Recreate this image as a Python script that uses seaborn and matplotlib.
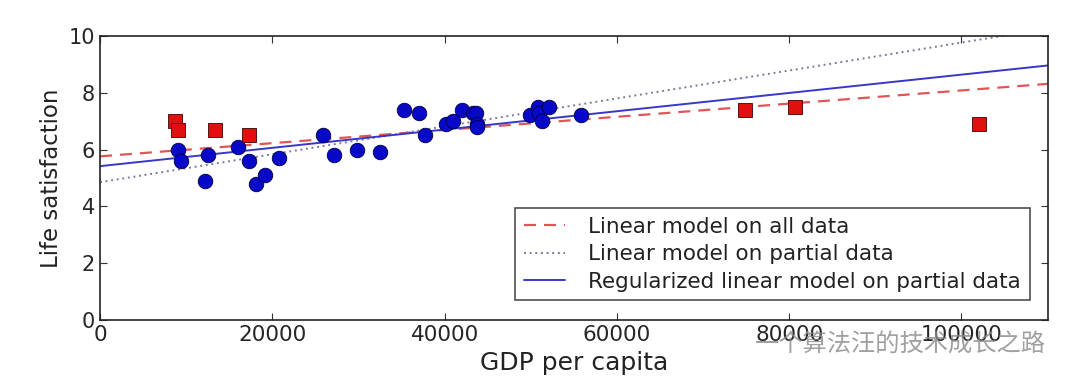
import numpy as np
import pandas as pd
import matplotlib
matplotlib.use('Agg')
import matplotlib.pyplot as plt
import seaborn as sns

# GDP per capita / life satisfaction, countries used for the partial fit
gdp_partial = [9054.914, 9437.372, 12239.894, 12495.334, 15991.736, 17288.083,
               18064.288, 19121.592, 20732.482, 25864.721, 27195.197, 29866.581,
               32485.545, 35343.336, 37044.891, 37675.006, 40106.632, 40996.511,
               41973.988, 43331.961, 43603.115, 43724.031, 43770.688, 49866.266,
               50854.583, 50961.865, 51350.744, 52114.165, 55805.204]
life_partial = [6.0, 5.6, 4.9, 5.8, 6.1, 5.6, 4.8, 5.1, 5.7, 6.5, 5.8, 6.0,
                5.9, 7.4, 7.3, 6.5, 6.9, 7.0, 7.4, 7.3, 7.3, 6.9, 6.8, 7.2,
                7.5, 7.3, 7.0, 7.5, 7.2]

# countries left out of the partial fit
gdp_missing = [8669.998, 9009.280, 13340.905, 17256.918, 74822.106, 80675.308, 101994.093]
life_missing = [7.0, 6.7, 6.7, 6.5, 7.4, 7.5, 6.9]

ridge_alpha = 10 ** 9.5

partial = pd.DataFrame({'gdp': gdp_partial, 'life': life_partial})
missing = pd.DataFrame({'gdp': gdp_missing, 'life': life_missing})
full = pd.concat([partial, missing])

# fits
t1_full, t0_full = np.polyfit(full['gdp'], full['life'], 1)
t1_part, t0_part = np.polyfit(partial['gdp'], partial['life'], 1)
xm, ym = partial['gdp'].mean(), partial['life'].mean()
t1_ridge = ((partial['gdp'] - xm) * (partial['life'] - ym)).sum() / (((partial['gdp'] - xm) ** 2).sum() + ridge_alpha)
t0_ridge = ym - t1_ridge * xm

X = np.linspace(0, 110000, 1000)
lines = pd.DataFrame({
    'x': X,
    'all': t0_full + t1_full * X,
    'part': t0_part + t1_part * X,
    'ridge': t0_ridge + t1_ridge * X,
})

sns.set_style('ticks')
plt.rcParams['font.family'] = ['DejaVu Sans']

fig = plt.figure(figsize=(10.8, 3.9), dpi=100)
ax = fig.add_axes([0.0926, 0.179, 0.8774, 0.729])

sns.scatterplot(data=partial, x='gdp', y='life', ax=ax, marker='o', s=110,
                color='#0808c8', edgecolor='#000040', linewidth=0.6, zorder=3)
sns.scatterplot(data=missing, x='gdp', y='life', ax=ax, marker='s', s=95,
                color='#e01010', edgecolor='#400000', linewidth=0.6, zorder=3)

sns.lineplot(data=lines, x='x', y='all', ax=ax, color='#e05555', linestyle=(0, (5.4, 3.6)),
             linewidth=1.6, label='Linear model on all data')
sns.lineplot(data=lines, x='x', y='part', ax=ax, color='#7a7a9a', linestyle=(0, (1, 1.9)),
             linewidth=1.4, label='Linear model on partial data')
sns.lineplot(data=lines, x='x', y='ridge', ax=ax, color='#3838c8', linewidth=1.4,
             label='Regularized linear model on partial data')

ax.set_xlim(0, 110000)
ax.set_ylim(0, 10)
ax.set_xticks([0, 20000, 40000, 60000, 80000, 100000])
ax.set_yticks([0, 2, 4, 6, 8, 10])
ax.tick_params(direction='in', top=True, right=True, length=5, color='#333333')
ax.tick_params(axis='x', labelsize=15.5)
ax.tick_params(axis='y', labelsize=15)
for sp in ax.spines.values():
    sp.set_color('#222222')
    sp.set_linewidth(1.2)
ax.set_xlabel('GDP per capita', fontsize=18, color='#222222')
ax.set_ylabel('Life satisfaction', fontsize=16.5, color='#222222')

leg = ax.legend(loc='lower right', fontsize=15.5, frameon=True, fancybox=False,
                edgecolor='#222222', handlelength=1.9, handletextpad=1.1,
                borderpad=0.4, labelspacing=0.35,
                bbox_to_anchor=(0.9925, 0.032))
leg.get_frame().set_linewidth(1.2)
for t in leg.get_texts():
    t.set_color('#222222')

fig.text(0.968, 0.115, '一个算法汪的技术成长之路', fontsize=17.5, color='#888888', alpha=0.8,
         ha='right', va='center', family=['Noto Sans CJK SC', 'DejaVu Sans'])

fig.savefig('out.png', dpi=100)
